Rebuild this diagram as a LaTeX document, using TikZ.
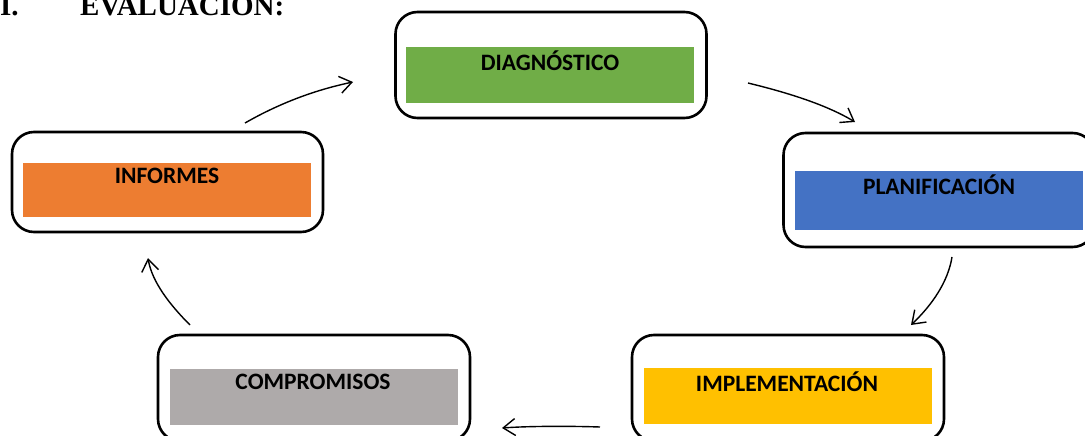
\documentclass[tikz,border=0pt]{standalone}
\usepackage{fontspec}
\newfontfamily\titlefont{Liberation Serif}
\newfontfamily\boxfont{Carlito}
\usetikzlibrary{arrows.meta}
\definecolor{cgreen}{HTML}{70AD47}
\definecolor{cblue}{HTML}{4472C4}
\definecolor{cyellow}{HTML}{FFC000}
\definecolor{cgray}{HTML}{AEAAAA}
\definecolor{corange}{HTML}{ED7D31}
\tikzset{
  outerbox/.style={draw=black, line width=2.6pt, rounded corners=22pt, fill=white, inner sep=0pt},
  innerbox/.style={draw=none, inner sep=0pt, minimum width=288pt, minimum height=56pt},
  boxtext/.style={inner sep=0pt, font=\boxfont\bfseries\fontsize{23.5}{26}\selectfont, text=black},
  cyc/.style={line width=1.4pt, -{Straight Barb[length=12pt,width=17pt,line width=1.4pt]}}
}
\begin{document}
\begin{tikzpicture}[x=1pt,y=-1pt]
\useasboundingbox (0,0) rectangle (1085,436);
\clip (0,0) rectangle (1085,436);
\fill[white] (0,0) rectangle (1085,436);
% title
\node[anchor=base west, inner sep=0pt, font=\titlefont\bfseries\fontsize{29}{32}\selectfont] (tI) at (0,16) {I.};
\node[anchor=base west, inner sep=0pt, font=\titlefont\bfseries\fontsize{29}{32}\selectfont] (tE) at (80,16) {EVALUACIÓN:};
% DIAGNOSTICO
\node[outerbox, minimum width=311pt, minimum height=106pt] (diag) at (551,65) {};
\node[innerbox, fill=cgreen] (diagin) at (550,75) {};
\node[boxtext] (diagt) at (550,61) {DIAGNÓSTICO};
% PLANIFICACION
\node[outerbox, minimum width=311pt, minimum height=114pt] (plan) at (939,190) {};
\node[innerbox, fill=cblue, minimum height=59pt] (planin) at (939,200.5) {};
\node[boxtext] (plant) at (939,185) {PLANIFICACIÓN};
% IMPLEMENTACION
\node[outerbox, minimum width=312pt, minimum height=106pt] (impl) at (788,388) {};
\node[innerbox, fill=cyellow] (implin) at (787.5,396) {};
\node[boxtext] (implt) at (787,382) {IMPLEMENTACIÓN};
% COMPROMISOS
\node[outerbox, minimum width=312pt, minimum height=106pt] (comp) at (314,388) {};
\node[innerbox, fill=cgray] (compin) at (314,396.5) {};
\node[boxtext] (compt) at (313,382) {COMPROMISOS};
% INFORMES
\node[outerbox, minimum width=311pt, minimum height=100pt] (inf) at (167.5,182) {};
\node[innerbox, fill=corange, minimum height=54pt] (infin) at (167,190) {};
\node[boxtext] (inft) at (167,176) {INFORMES};
% arrow end points
\coordinate (a1s) at (245,123); \coordinate (a1e) at (353,82);
\coordinate (a2s) at (748,83);  \coordinate (a2e) at (855,122);
\coordinate (a3s) at (952,257); \coordinate (a3e) at (911,325);
\coordinate (a4s) at (600,427); \coordinate (a4e) at (502,428);
\coordinate (a5s) at (190,325); \coordinate (a5e) at (148,258);
\draw[cyc] (a1s) .. controls (280,103) and (315,90) .. (a1e);
\draw[cyc] (a2s) .. controls (785,92) and (825,104) .. (a2e);
\draw[cyc] (a3s) .. controls (948,282) and (932,305) .. (a3e);
\draw[cyc] (a4s) .. controls (570,426) and (530,426) .. (a4e);
\draw[cyc] (a5s) .. controls (170,305) and (152,282) .. (a5e);
\end{tikzpicture}
\end{document}
